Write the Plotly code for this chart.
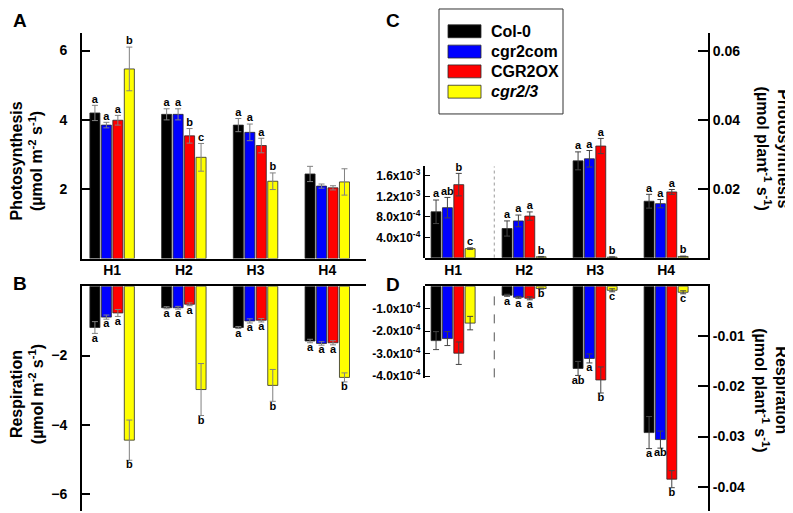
import plotly.graph_objects as go

# ---------------- data ----------------
categories = ["H1", "H2", "H3", "H4"]
genotypes = ["Col-0", "cgr2com", "CGR2OX", "cgr2/3"]
colors = ["#000000", "#0000FF", "#FF0000", "#FFFF00"]

# Panel A: photosynthesis (umol m-2 s-1)
photo_area_col0 = [4.20, 4.16, 3.85, 2.44]
photo_area_com = [3.85, 4.16, 3.64, 2.09]
photo_area_ox = [3.99, 3.54, 3.26, 2.04]
photo_area_cgr23 = [5.47, 2.92, 2.23, 2.21]
photo_area_err_col0 = [0.22, 0.16, 0.19, 0.22]
photo_area_err_com = [0.08, 0.16, 0.24, 0.06]
photo_area_err_ox = [0.14, 0.21, 0.21, 0.06]
photo_area_err_cgr23 = [0.63, 0.40, 0.24, 0.38]
photo_area_let_col0 = ["a", "a", "a", ""]
photo_area_let_com = ["a", "a", "a", ""]
photo_area_let_ox = ["a", "b", "a", ""]
photo_area_let_cgr23 = ["b", "c", "b", ""]

# Panel B: respiration (umol m-2 s-1)
resp_area_col0 = [-1.19, -0.62, -1.19, -1.58]
resp_area_com = [-0.89, -0.62, -1.00, -1.65]
resp_area_ox = [-0.77, -0.52, -0.98, -1.63]
resp_area_cgr23 = [-4.44, -2.98, -2.86, -2.63]
resp_area_err_col0 = [0.17, 0.03, 0.03, 0.05]
resp_area_err_com = [0.06, 0.04, 0.06, 0.05]
resp_area_err_ox = [0.10, 0.04, 0.05, 0.06]
resp_area_err_cgr23 = [0.58, 0.75, 0.46, 0.13]
resp_area_let_col0 = ["a", "a", "a", "a"]
resp_area_let_com = ["a", "a", "a", "a"]
resp_area_let_ox = ["a", "a", "a", "a"]
resp_area_let_cgr23 = ["b", "b", "b", "b"]

# Panel C: photosynthesis (umol plant-1 s-1); H1 is read on the inset axis
photo_plant_col0 = [9.0e-4, 0.0085, 0.0281, 0.0164]
photo_plant_com = [9.8e-4, 0.0107, 0.0287, 0.0157]
photo_plant_ox = [1.43e-3, 0.0121, 0.0324, 0.0191]
photo_plant_cgr23 = [1.8e-4, 0.0003, 0.0002, 0.0004]
photo_plant_err_col0 = [2.3e-4, 0.0022, 0.0026, 0.0020]
photo_plant_err_com = [2.0e-4, 0.0017, 0.0024, 0.0012]
photo_plant_err_ox = [2.2e-4, 0.0012, 0.0022, 0.0007]
photo_plant_err_cgr23 = [1.5e-5, 0.0001, 0.0001, 0.0001]
photo_plant_let_col0 = ["a", "a", "a", "a"]
photo_plant_let_com = ["ab", "a", "a", "a"]
photo_plant_let_ox = ["b", "a", "a", "a"]
photo_plant_let_cgr23 = ["c", "b", "b", "b"]

# Panel D: respiration (umol plant-1 s-1); H1 is read on the inset axis
resp_plant_col0 = [-2.42e-4, -0.0018, -0.0164, -0.0292]
resp_plant_com = [-2.33e-4, -0.0022, -0.0144, -0.0306]
resp_plant_ox = [-2.98e-4, -0.0024, -0.0187, -0.0385]
resp_plant_cgr23 = [-1.64e-4, -0.00046, -0.0008, -0.0012]
resp_plant_err_col0 = [0.40e-4, 0.0002, 0.0014, 0.0032]
resp_plant_err_com = [0.31e-4, 0.0002, 0.0009, 0.0017]
resp_plant_err_ox = [0.50e-4, 0.0003, 0.0026, 0.0017]
resp_plant_err_cgr23 = [0.30e-4, 0.0001, 0.0003, 0.0003]
resp_plant_let_col0 = ["", "a", "ab", "a"]
resp_plant_let_com = ["", "a", "a", "ab"]
resp_plant_let_ox = ["", "a", "b", "b"]
resp_plant_let_cgr23 = ["", "b", "c", "c"]

# tick labels
area_photo_ticks = [2, 4, 6]
area_resp_ticks = [-6, -4, -2]
plant_photo_ticks = [0.02, 0.04, 0.06]
plant_photo_text = ["0.02", "0.04", "0.06"]
plant_resp_ticks = [-0.04, -0.03, -0.02, -0.01]
plant_resp_text = ["-0.04", "-0.03", "-0.02", "-0.01"]
inset_photo_ticks = [4.0e-4, 8.0e-4, 1.2e-3, 1.6e-3]
inset_photo_text = ["4.0x10<sup>-4</sup>", "8.0x10<sup>-4</sup>", "1.2x10<sup>-3</sup>", "1.6x10<sup>-3</sup>"]
inset_resp_ticks = [-4.0e-4, -3.0e-4, -2.0e-4, -1.0e-4]
inset_resp_text = ["-4.0x10<sup>-4</sup>", "-3.0x10<sup>-4</sup>", "-2.0x10<sup>-4</sup>", "-1.0x10<sup>-4</sup>"]

# ---------------- layout helpers ----------------
W, H = 793, 513
FONT = "Arial, Liberation Sans, sans-serif"


def fx(px):
    return px / W


def fy(py):
    return 1 - py / H


SLOT = 0.16
BW = 0.14

fig = go.Figure()


def add_series(idx, vals, errs, lets, k, xa, ya, errcolor, up):
    off = (k - 2) * SLOT + (SLOT - BW) / 2
    fig.add_trace(go.Bar(
        x=idx, y=vals, width=BW, offset=off,
        marker=dict(color=colors[k], line=dict(color="#2a2a2a", width=0.8)),
        error_y=dict(type="data", array=errs, visible=True, color=errcolor,
                     thickness=1, width=3),
        xaxis=xa, yaxis=ya, showlegend=False, name=genotypes[k], hoverinfo="skip"))
    tx, ty, tt = [], [], []
    for i, v, e, l in zip(idx, vals, errs, lets):
        if l:
            tx.append(i + (k - 1.5) * SLOT)
            ty.append(v + e if up else v - e)
            tt.append(l)
    if tt:
        fig.add_trace(go.Scatter(
            x=tx, y=ty, text=tt, mode="text",
            textposition="top center" if up else "bottom center",
            textfont=dict(family=FONT, size=11, color="black", weight="bold"),
            xaxis=xa, yaxis=ya, showlegend=False, hoverinfo="skip", cliponaxis=False))


idx_all = list(range(len(categories)))

A_sets = [(photo_area_col0, photo_area_err_col0, photo_area_let_col0),
          (photo_area_com, photo_area_err_com, photo_area_let_com),
          (photo_area_ox, photo_area_err_ox, photo_area_let_ox),
          (photo_area_cgr23, photo_area_err_cgr23, photo_area_let_cgr23)]
B_sets = [(resp_area_col0, resp_area_err_col0, resp_area_let_col0),
          (resp_area_com, resp_area_err_com, resp_area_let_com),
          (resp_area_ox, resp_area_err_ox, resp_area_let_ox),
          (resp_area_cgr23, resp_area_err_cgr23, resp_area_let_cgr23)]
C_sets = [(photo_plant_col0, photo_plant_err_col0, photo_plant_let_col0),
          (photo_plant_com, photo_plant_err_com, photo_plant_let_com),
          (photo_plant_ox, photo_plant_err_ox, photo_plant_let_ox),
          (photo_plant_cgr23, photo_plant_err_cgr23, photo_plant_let_cgr23)]
D_sets = [(resp_plant_col0, resp_plant_err_col0, resp_plant_let_col0),
          (resp_plant_com, resp_plant_err_com, resp_plant_let_com),
          (resp_plant_ox, resp_plant_err_ox, resp_plant_let_ox),
          (resp_plant_cgr23, resp_plant_err_cgr23, resp_plant_let_cgr23)]

for k, (v, e, l) in enumerate(A_sets):
    add_series(idx_all, v, e, l, k, "x", "y", "#808080", True)
for k, (v, e, l) in enumerate(B_sets):
    add_series(idx_all, v, e, l, k, "x2", "y2", "#808080", False)
for k, (v, e, l) in enumerate(C_sets):
    add_series(idx_all[:1], v[:1], e[:1], l[:1], k, "x3", "y5", "#444444", True)
    add_series(idx_all[1:], v[1:], e[1:], l[1:], k, "x3", "y3", "#444444", True)
for k, (v, e, l) in enumerate(D_sets):
    add_series(idx_all[:1], v[:1], e[:1], l[:1], k, "x4", "y6", "#444444", False)
    add_series(idx_all[1:], v[1:], e[1:], l[1:], k, "x4", "y4", "#444444", False)

tickfont = dict(family=FONT, size=14, color="black", weight="bold")
insetfont = dict(family=FONT, size=12, color="black", weight="bold")
common = dict(showgrid=False, zeroline=False, showline=True, linecolor="black",
              linewidth=2, fixedrange=True)

xA = [fx(74), fx(358)]
xC = [fx(416.7), fx(700)]
rangeA = [-0.42, 3.54]
rangeC = [-0.40, 3.59]

fig.update_layout(
    width=W, height=H, autosize=False,
    margin=dict(l=0, r=0, t=0, b=0, pad=0),
    paper_bgcolor="white", plot_bgcolor="rgba(0,0,0,0)",
    showlegend=False, hovermode=False,
    font=dict(family=FONT, color="black"),
    xaxis=dict(domain=xA, range=rangeA, anchor="y", ticks="", showticklabels=False, **common),
    yaxis=dict(domain=[fy(253), fy(25)], range=[0, 6.514], anchor="x", ticks="inside",
               ticklen=8, tickwidth=1.5, tickcolor="black", tickvals=area_photo_ticks,
               tickfont=tickfont, ticklabelstandoff=10, **common),
    xaxis2=dict(domain=xA, range=rangeA, anchor="y2", side="top", ticks="",
                tickvals=idx_all, ticktext=categories, tickfont=tickfont,
                ticklabelstandoff=4, **common),
    yaxis2=dict(domain=[fy(508), fy(281)], range=[-6.486, 0], anchor="x2", ticks="inside",
                ticklen=8, tickwidth=1.5, tickcolor="black", tickvals=area_resp_ticks,
                tickfont=tickfont, ticklabelstandoff=10, **common),
    xaxis3=dict(domain=xC, range=rangeC, anchor="y3", ticks="", showticklabels=False, **common),
    yaxis3=dict(domain=[fy(252.3), fy(25)], range=[0, 0.06522], anchor="x3", side="right",
                ticks="inside", ticklen=10, tickwidth=1.5, tickcolor="black",
                tickvals=plant_photo_ticks, ticktext=plant_photo_text,
                tickfont=tickfont, **common),
    yaxis5=dict(domain=[fy(252.3), fy(160)], range=[0, 1.786e-3], anchor="x3", side="left",
                ticks="inside", ticklen=5, tickwidth=1.2, tickcolor="black",
                tickvals=inset_photo_ticks, ticktext=inset_photo_text,
                tickfont=insetfont, **common),
    xaxis4=dict(domain=xC, range=rangeC, anchor="y4", side="top", ticks="",
                tickvals=idx_all, ticktext=categories, tickfont=tickfont,
                ticklabelstandoff=4, **common),
    yaxis4=dict(domain=[fy(508), fy(281)], range=[-0.04486, 0], anchor="x4", side="right",
                ticks="inside", ticklen=10, tickwidth=1.5, tickcolor="black",
                tickvals=plant_resp_ticks, ticktext=plant_resp_text,
                tickfont=tickfont, **common),
    yaxis6=dict(domain=[fy(374), fy(281)], range=[-4.10e-4, 0], anchor="x4", side="left",
                ticks="inside", ticklen=5, tickwidth=1.2, tickcolor="black",
                tickvals=inset_resp_ticks, ticktext=inset_resp_text,
                tickfont=insetfont, **common),
)

# separators between H1 (inset scale) and the other growth stages
fig.add_shape(type="line", xref="x3", yref="paper", x0=0.58, x1=0.58, y0=fy(252), y1=fy(160),
              line=dict(color="#9a9a9a", width=1, dash="dot"))
fig.add_shape(type="line", xref="x4", yref="paper", x0=0.58, x1=0.58, y0=fy(373), y1=fy(283),
              line=dict(color="#555555", width=1, dash="dash"))

# legend (drawn as wide swatches like the original)
fig.add_shape(type="rect", xref="paper", yref="paper", x0=fx(431), x1=fx(555), y0=fy(107), y1=fy(1),
              line=dict(color="#333333", width=1), fillcolor="white", layer="below")
leg_y = [23.5, 44, 64, 84.5]
for k, g in enumerate(genotypes):
    fig.add_shape(type="rect", xref="paper", yref="paper", x0=fx(440), x1=fx(473),
                  y0=fy(leg_y[k] + 6.5), y1=fy(leg_y[k] - 6.5),
                  line=dict(color="#2a2a2a", width=0.8), fillcolor=colors[k])
    fig.add_annotation(x=fx(481), y=fy(leg_y[k]), xref="paper", yref="paper", xanchor="left",
                       yanchor="middle", showarrow=False,
                       text=("<i>%s</i>" % g) if g == "cgr2/3" else g,
                       font=dict(family=FONT, size=16, color="black", weight="bold"))

# panel letters
for lab, (px, py) in {"A": (11.5, 12.5), "B": (11.5, 278.5), "C": (385, 12.5), "D": (385, 279)}.items():
    fig.add_annotation(x=fx(px), y=fy(py), xref="paper", yref="paper", showarrow=False,
                       xanchor="center", yanchor="middle", text=lab,
                       font=dict(family=FONT, size=19, color="black", weight="bold"))

# axis titles
titles = [
    ("Photosynthesis<br>(µmol m<sup>-2</sup> s<sup>-1</sup>)", 19, 155, -90),
    ("Respiration<br>(µmol m<sup>-2</sup> s<sup>-1</sup>)", 19, 390, -90),
    ("Photosynthesis<br>(µmol plant<sup>-1</sup> s<sup>-1</sup>)", 765, 142, 90),
    ("Respiration<br>(µmol plant<sup>-1</sup> s<sup>-1</sup>)", 763, 386, 90),
]
for t, px, py, ang in titles:
    fig.add_annotation(x=fx(px), y=fy(py), xref="paper", yref="paper", showarrow=False,
                       xanchor="center", yanchor="middle", text=t, textangle=ang,
                       font=dict(family=FONT, size=16, color="black", weight="bold"))

fig.write_html("out.html", config={"displayModeBar": False})
